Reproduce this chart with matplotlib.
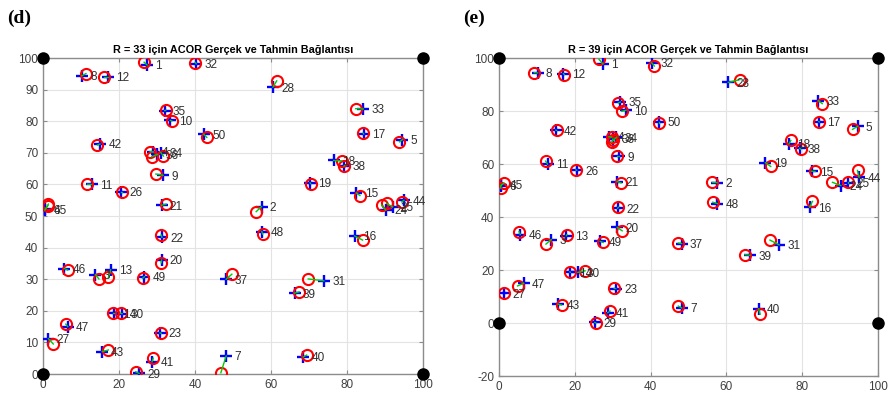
import numpy as np
import matplotlib
matplotlib.use("Agg")
import matplotlib.pyplot as plt

plt.rcParams['font.family'] = ['Liberation Sans', 'DejaVu Sans']
plt.rcParams['axes.unicode_minus'] = False

node_ids = list(range(1, 51))

# real node positions (same network in both panels)
real_x = [27.4, 57.5, 13.8, 29.0, 94.6, 0.5, 48.2, 10.2, 31.6, 33.5,
          12.8, 17.0, 17.8, 18.8, 82.5, 82.0, 84.4, 76.5, 70.3, 31.2,
          31.2, 31.3, 30.8, 90.2, 92.0, 20.5, 1.4, 60.5, 25.3, 20.8,
          73.9, 40.3, 84.3, 31.0, 32.0, 30.1, 48.2, 79.3, 66.2, 68.5,
          28.7, 15.0, 15.6, 95.0, 0.6, 5.6, 6.5, 57.6, 26.7, 42.3]
real_y = [97.8, 53.0, 31.5, 70.3, 74.2, 51.9, 5.7, 94.4, 62.9, 80.3,
          60.0, 94.1, 33.0, 19.2, 57.3, 43.7, 76.0, 67.6, 60.5, 36.1,
          53.4, 43.3, 13.0, 51.9, 52.9, 57.7, 11.2, 90.8, 0.2, 19.1,
          29.5, 98.2, 83.9, 70.1, 83.4, 69.5, 30.0, 66.0, 25.6, 5.4,
          3.9, 72.8, 7.1, 55.0, 52.2, 33.4, 15.0, 45.1, 30.8, 75.9]

# estimated positions, R = 33
est33_x = [26.6, 56.1, 14.7, 28.2, 93.8, 1.4, 46.8, 11.3, 29.7, 33.9,
           11.7, 16.1, 17.2, 18.3, 83.4, 84.1, 84.3, 78.6, 70.4, 31.1,
           32.4, 31.1, 31.1, 89.1, 90.4, 20.7, 2.7, 61.5, 24.4, 20.4,
           69.8, 40.1, 82.3, 31.7, 32.3, 28.6, 49.7, 79.2, 67.4, 69.4,
           29.0, 14.3, 17.2, 94.4, 1.3, 6.5, 6.0, 57.8, 26.2, 43.1]
est33_y = [98.7, 51.4, 30.1, 70.4, 73.5, 53.8, 0.4, 95.1, 63.3, 80.1,
           60.1, 94.1, 30.6, 19.2, 56.5, 42.4, 76.2, 67.5, 60.3, 35.2,
           53.8, 44.0, 12.9, 53.5, 54.0, 57.7, 9.5, 92.8, 0.7, 19.2,
           30.1, 98.6, 84.0, 69.0, 83.5, 68.8, 31.6, 65.8, 26.0, 6.0,
           5.0, 72.5, 7.6, 54.5, 53.3, 32.9, 15.8, 44.3, 30.3, 74.9]

# estimated positions, R = 39
est39_x = [26.4, 56.3, 12.4, 29.7, 93.3, 1.3, 47.3, 9.3, 31.2, 32.4,
           12.3, 17.2, 17.9, 18.7, 83.4, 82.7, 84.5, 77.0, 71.7, 32.5,
           32.2, 31.5, 30.4, 88.0, 92.0, 20.3, 1.4, 63.6, 25.5, 22.7,
           71.5, 41.0, 85.3, 29.7, 31.5, 30.0, 47.3, 79.6, 64.9, 68.9,
           29.3, 15.2, 16.5, 94.6, 0.4, 5.3, 4.9, 56.4, 27.5, 42.3]
est39_y = [99.5, 53.1, 29.8, 70.2, 73.1, 52.8, 6.4, 94.5, 62.9, 79.9,
           61.1, 93.8, 33.3, 19.3, 57.2, 45.9, 75.9, 68.9, 59.1, 34.8,
           52.9, 43.7, 13.1, 53.1, 53.4, 57.8, 11.5, 91.9, 0.1, 19.7,
           31.3, 97.0, 82.8, 68.3, 83.1, 69.2, 30.2, 65.6, 25.8, 3.3,
           4.5, 72.7, 6.8, 57.6, 51.0, 34.5, 14.0, 45.6, 30.4, 75.6]

anchor_x = [0, 100, 0, 100]
anchor_y = [100, 100, 0, 0]

panels = [
    ("(d)", "R = 33 için ACOR Gerçek ve Tahmin Bağlantısı", est33_x, est33_y,
     [0.0484, 0.0765, 0.4274, 0.780], (0, 100), np.arange(0, 101, 10)),
    ("(e)", "R = 39 için ACOR Gerçek ve Tahmin Bağlantısı", est39_x, est39_y,
     [0.5613, 0.0716, 0.4263, 0.785], (-20, 100), np.arange(-20, 101, 20)),
]

fig = plt.figure(figsize=(8.89, 4.05), dpi=100)

for tag, title, ex, ey, rect, ylim, yticks in panels:
    ax = fig.add_axes(rect)
    ax.set_xlim(0, 100)
    ax.set_ylim(*ylim)
    ax.set_xticks(np.arange(0, 101, 20))
    ax.set_yticks(yticks)
    ax.grid(True, color='#e3e3e3', linewidth=0.8)
    ax.set_axisbelow(True)
    for s in ax.spines.values():
        s.set_color('#8c8c8c')
        s.set_linewidth(1.0)
    ax.tick_params(direction='in', length=3, color='#8c8c8c', labelsize=8.5,
                   labelcolor='#404040', top=True, right=True)

    ax.plot(real_x, real_y, '+', color='#0000ff', markersize=9, mew=1.7, zorder=3)
    ax.plot(ex, ey, 'o', mfc='none', mec='#ff0000', markersize=8, mew=1.5, zorder=4)
    for i in range(len(node_ids)):
        ax.plot([real_x[i], ex[i]], [real_y[i], ey[i]], '-', color='#00cc00',
                linewidth=1.0, zorder=5)
        ax.annotate(str(node_ids[i]), (real_x[i], real_y[i]), xytext=(6, -1),
                    textcoords='offset points', ha='left', va='center',
                    fontsize=8.5, color='#303030', zorder=6)

    ax.plot(anchor_x, anchor_y, 'o', color='black', markersize=8, clip_on=False, zorder=7)

    ax.set_title(title, fontsize=7.8, fontweight='bold', pad=4)
    fig.text(rect[0] - 0.04, 0.955, tag, fontsize=14, fontweight='bold',
             family='Liberation Serif', ha='left', va='center')

fig.savefig("out.png", dpi=100)
